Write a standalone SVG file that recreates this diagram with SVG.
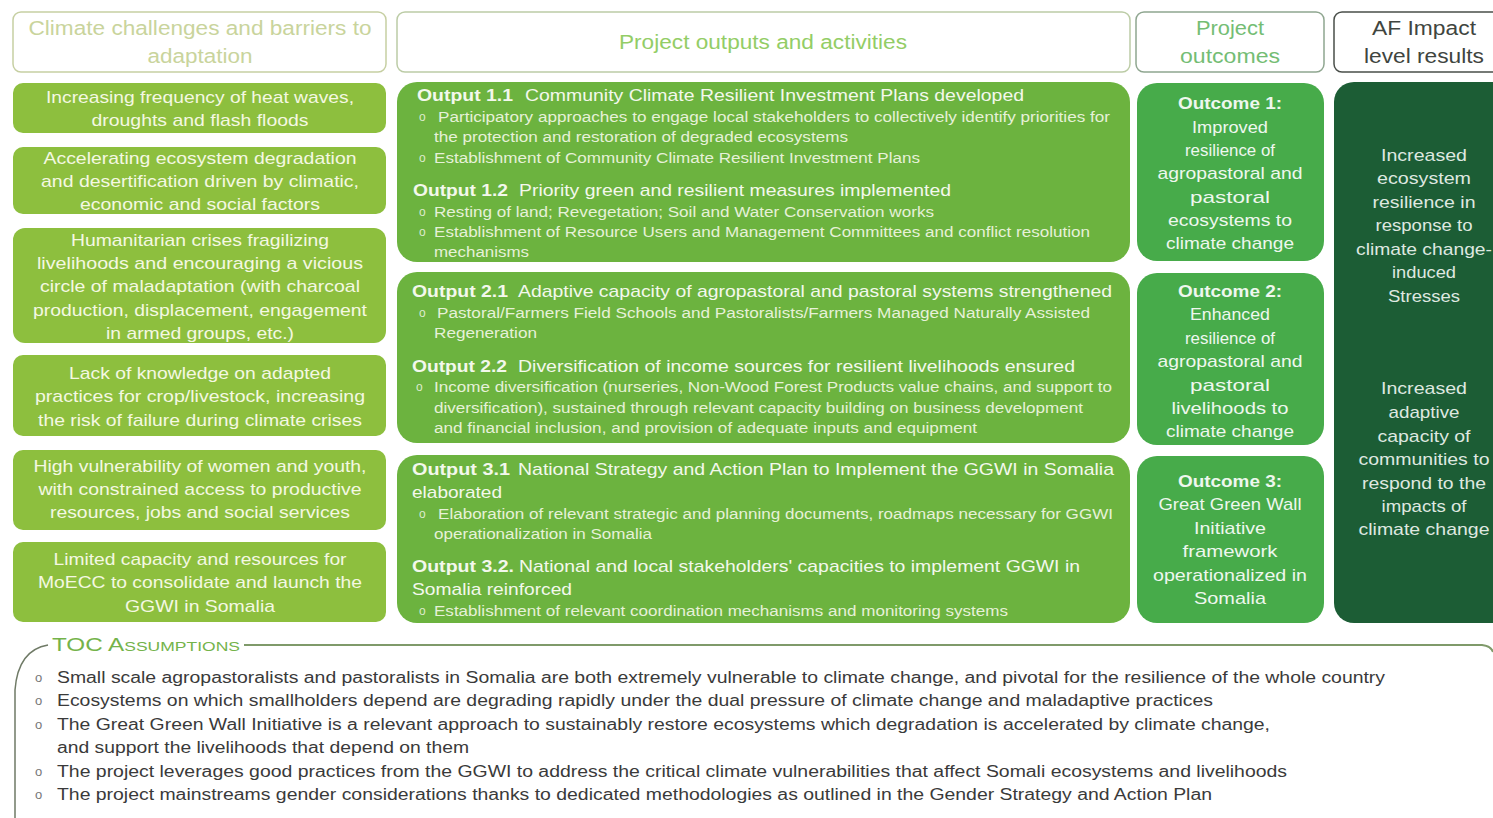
<svg xmlns="http://www.w3.org/2000/svg" width="1493" height="818" viewBox="0 0 1493 818">
<style>
text{font-family:"Liberation Sans",Arial,sans-serif}
.ht{font-size:20px;text-anchor:middle}
.lb{fill:#8dbf3e}
.lt{font-size:17px;fill:#f4f8e2;text-anchor:middle}
.ob{fill:#6cb33f}
.oh{font-size:17px;fill:#f3f8ec}
.ohb{font-size:17px;fill:#f3f8ec;font-weight:bold}
.os{font-size:14px;fill:#e6f1d8}
.bu{font-size:12px;fill:#dcebcc}
.oc{fill:#47ab4a}
.ct{font-size:17px;fill:#eef7ee;text-anchor:middle}
.af{fill:#1c5d35}
.at{font-size:17px;fill:#dfe8e0;text-anchor:middle}
.tc{font-size:16px;fill:#3a3a3a}
.tb{font-size:13px;fill:#777}
</style>

<g id="header-challenges">
<rect x="13" y="12" width="373" height="60" rx="8" fill="#fff" stroke="#c6cfa2" stroke-width="1.5"/>
<text class="ht" x="200" y="35" fill="#c9d49c" textLength="343" lengthAdjust="spacingAndGlyphs">Climate challenges and barriers to</text>
<text class="ht" x="200" y="63" fill="#c9d49c" textLength="105" lengthAdjust="spacingAndGlyphs">adaptation</text>
</g>
<g id="header-outputs">
<rect x="397" y="12" width="733" height="60" rx="8" fill="#fff" stroke="#bccca6" stroke-width="1.5"/>
<text class="ht" x="763" y="49" fill="#93cd66" textLength="288" lengthAdjust="spacingAndGlyphs">Project outputs and activities</text>
</g>
<g id="header-outcomes">
<rect x="1136" y="12" width="188" height="60" rx="8" fill="#fff" stroke="#8fa690" stroke-width="1.5"/>
<text class="ht" x="1230" y="35" fill="#74bd74" textLength="68" lengthAdjust="spacingAndGlyphs">Project</text>
<text class="ht" x="1230" y="63" fill="#74bd74" textLength="100" lengthAdjust="spacingAndGlyphs">outcomes</text>
</g>
<g id="header-impact">
<rect x="1334" y="12" width="175" height="60" rx="8" fill="#fff" stroke="#4a4f4a" stroke-width="1.5"/>
<text class="ht" x="1424" y="35" fill="#404540" textLength="104" lengthAdjust="spacingAndGlyphs">AF Impact</text>
<text class="ht" x="1424" y="63" fill="#404540" textLength="120" lengthAdjust="spacingAndGlyphs">level results</text>
</g>

<g id="challenge-1">
<rect class="lb" x="13" y="83" width="373" height="50" rx="10"/>
<text class="lt" x="200" y="103" textLength="308" lengthAdjust="spacingAndGlyphs">Increasing frequency of heat waves,</text>
<text class="lt" x="200" y="126" textLength="217" lengthAdjust="spacingAndGlyphs">droughts and flash floods</text>
</g>
<g id="challenge-2">
<rect class="lb" x="13" y="147" width="373" height="67" rx="10"/>
<text class="lt" x="200" y="164" textLength="313" lengthAdjust="spacingAndGlyphs">Accelerating ecosystem degradation</text>
<text class="lt" x="200" y="187" textLength="318" lengthAdjust="spacingAndGlyphs">and desertification driven by climatic,</text>
<text class="lt" x="200" y="210" textLength="240" lengthAdjust="spacingAndGlyphs">economic and social factors</text>
</g>
<g id="challenge-3">
<rect class="lb" x="13" y="228" width="373" height="115" rx="12"/>
<text class="lt" x="200" y="246" textLength="258" lengthAdjust="spacingAndGlyphs">Humanitarian crises fragilizing</text>
<text class="lt" x="200" y="269" textLength="326" lengthAdjust="spacingAndGlyphs">livelihoods  and encouraging a vicious</text>
<text class="lt" x="200" y="292" textLength="320" lengthAdjust="spacingAndGlyphs">circle of maladaptation (with charcoal</text>
<text class="lt" x="200" y="316" textLength="334" lengthAdjust="spacingAndGlyphs">production, displacement, engagement</text>
<text class="lt" x="200" y="339" textLength="188" lengthAdjust="spacingAndGlyphs">in armed groups, etc.)</text>
</g>
<g id="challenge-4">
<rect class="lb" x="13" y="355" width="373" height="81" rx="10"/>
<text class="lt" x="200" y="379" textLength="262" lengthAdjust="spacingAndGlyphs">Lack of knowledge on adapted</text>
<text class="lt" x="200" y="402" textLength="330" lengthAdjust="spacingAndGlyphs">practices for crop/livestock, increasing</text>
<text class="lt" x="200" y="426" textLength="324" lengthAdjust="spacingAndGlyphs">the risk of failure during climate crises</text>
</g>
<g id="challenge-5">
<rect class="lb" x="13" y="450" width="373" height="80" rx="10"/>
<text class="lt" x="200" y="472" textLength="333" lengthAdjust="spacingAndGlyphs">High vulnerability of women and youth,</text>
<text class="lt" x="200" y="495" textLength="323" lengthAdjust="spacingAndGlyphs">with constrained access to productive</text>
<text class="lt" x="200" y="518" textLength="300" lengthAdjust="spacingAndGlyphs">resources, jobs and social services</text>
</g>
<g id="challenge-6">
<rect class="lb" x="13" y="542" width="373" height="80" rx="10"/>
<text class="lt" x="200" y="565" textLength="293" lengthAdjust="spacingAndGlyphs">Limited capacity and resources for</text>
<text class="lt" x="200" y="588" textLength="324" lengthAdjust="spacingAndGlyphs">MoECC to consolidate and launch the</text>
<text class="lt" x="200" y="612" textLength="150" lengthAdjust="spacingAndGlyphs">GGWI in Somalia</text>
</g>

<g id="outputs-1">
<rect class="ob" x="397" y="82" width="733" height="180" rx="20"/>
<text class="ohb" x="417" y="101" textLength="96" lengthAdjust="spacingAndGlyphs">Output 1.1</text>
<text class="oh" x="525" y="101" textLength="499" lengthAdjust="spacingAndGlyphs">Community Climate Resilient Investment Plans developed</text>
<text class="bu" x="419" y="121">o</text>
<text class="os" x="438" y="122" textLength="672" lengthAdjust="spacingAndGlyphs">Participatory approaches to engage local stakeholders to collectively identify priorities for</text>
<text class="os" x="434" y="142" textLength="414" lengthAdjust="spacingAndGlyphs">the protection and restoration of degraded ecosystems</text>
<text class="bu" x="419" y="162">o</text>
<text class="os" x="434" y="163" textLength="486" lengthAdjust="spacingAndGlyphs">Establishment of Community Climate Resilient Investment Plans</text>
<text class="ohb" x="413" y="196" textLength="95" lengthAdjust="spacingAndGlyphs">Output 1.2</text>
<text class="oh" x="519" y="196" textLength="432" lengthAdjust="spacingAndGlyphs">Priority green and resilient measures implemented</text>
<text class="bu" x="419" y="216">o</text>
<text class="os" x="434" y="217" textLength="500" lengthAdjust="spacingAndGlyphs">Resting of land; Revegetation; Soil and Water Conservation works</text>
<text class="bu" x="419" y="236">o</text>
<text class="os" x="434" y="237" textLength="656" lengthAdjust="spacingAndGlyphs">Establishment of Resource Users and Management Committees and conflict resolution</text>
<text class="os" x="434" y="257" textLength="95" lengthAdjust="spacingAndGlyphs">mechanisms</text>
</g>
<g id="outputs-2">
<rect class="ob" x="397" y="272" width="733" height="171" rx="20"/>
<text class="ohb" x="412" y="297" textLength="96" lengthAdjust="spacingAndGlyphs">Output 2.1</text>
<text class="oh" x="518" y="297" textLength="594" lengthAdjust="spacingAndGlyphs">Adaptive capacity of agropastoral and pastoral systems strengthened</text>
<text class="bu" x="419" y="317">o</text>
<text class="os" x="437" y="318" textLength="653" lengthAdjust="spacingAndGlyphs">Pastoral/Farmers Field Schools and Pastoralists/Farmers Managed Naturally Assisted</text>
<text class="os" x="434" y="338" textLength="103" lengthAdjust="spacingAndGlyphs">Regeneration</text>
<text class="ohb" x="412" y="372" textLength="95" lengthAdjust="spacingAndGlyphs">Output 2.2</text>
<text class="oh" x="518" y="372" textLength="557" lengthAdjust="spacingAndGlyphs">Diversification of income sources for resilient livelihoods ensured</text>
<text class="bu" x="416" y="391">o</text>
<text class="os" x="434" y="392" textLength="678" lengthAdjust="spacingAndGlyphs">Income diversification (nurseries, Non-Wood Forest Products value chains, and support to</text>
<text class="os" x="434" y="413" textLength="649" lengthAdjust="spacingAndGlyphs">diversification), sustained through relevant capacity building on business development</text>
<text class="os" x="434" y="433" textLength="543" lengthAdjust="spacingAndGlyphs">and financial inclusion, and provision of adequate inputs and equipment</text>
</g>
<g id="outputs-3">
<rect class="ob" x="397" y="455" width="733" height="168" rx="20"/>
<text class="ohb" x="412" y="475" textLength="98" lengthAdjust="spacingAndGlyphs">Output 3.1</text>
<text class="oh" x="518" y="475" textLength="596" lengthAdjust="spacingAndGlyphs">National Strategy and Action Plan to Implement the GGWI in Somalia</text>
<text class="oh" x="412" y="498" textLength="90" lengthAdjust="spacingAndGlyphs">elaborated</text>
<text class="bu" x="419" y="518">o</text>
<text class="os" x="438" y="519" textLength="675" lengthAdjust="spacingAndGlyphs">Elaboration of relevant strategic and planning documents, roadmaps necessary for GGWI</text>
<text class="os" x="434" y="539" textLength="218" lengthAdjust="spacingAndGlyphs">operationalization in Somalia</text>
<text class="ohb" x="412" y="572" textLength="102" lengthAdjust="spacingAndGlyphs">Output 3.2.</text>
<text class="oh" x="519" y="572" textLength="561" lengthAdjust="spacingAndGlyphs">National and local stakeholders' capacities to implement GGWI in</text>
<text class="oh" x="412" y="595" textLength="160" lengthAdjust="spacingAndGlyphs">Somalia reinforced</text>
<text class="bu" x="419" y="615">o</text>
<text class="os" x="434" y="616" textLength="574" lengthAdjust="spacingAndGlyphs">Establishment of relevant coordination mechanisms and monitoring systems</text>
</g>

<g id="outcome-1">
<rect class="oc" x="1137" y="83" width="187" height="178" rx="20"/>
<text class="ct" x="1230" y="109" font-weight="bold" textLength="104" lengthAdjust="spacingAndGlyphs">Outcome 1:</text>
<text class="ct" x="1230" y="133" textLength="76" lengthAdjust="spacingAndGlyphs">Improved</text>
<text class="ct" x="1230" y="156" textLength="90" lengthAdjust="spacingAndGlyphs">resilience of</text>
<text class="ct" x="1230" y="179" textLength="145" lengthAdjust="spacingAndGlyphs">agropastoral and</text>
<text class="ct" x="1230" y="203" textLength="80" lengthAdjust="spacingAndGlyphs">pastoral</text>
<text class="ct" x="1230" y="226" textLength="124" lengthAdjust="spacingAndGlyphs">ecosystems to</text>
<text class="ct" x="1230" y="249" textLength="128" lengthAdjust="spacingAndGlyphs">climate change</text>
</g>
<g id="outcome-2">
<rect class="oc" x="1137" y="273" width="187" height="172" rx="20"/>
<text class="ct" x="1230" y="297" font-weight="bold" textLength="104" lengthAdjust="spacingAndGlyphs">Outcome 2:</text>
<text class="ct" x="1230" y="320" textLength="80" lengthAdjust="spacingAndGlyphs">Enhanced</text>
<text class="ct" x="1230" y="344" textLength="90" lengthAdjust="spacingAndGlyphs">resilience of</text>
<text class="ct" x="1230" y="367" textLength="145" lengthAdjust="spacingAndGlyphs">agropastoral and</text>
<text class="ct" x="1230" y="391" textLength="80" lengthAdjust="spacingAndGlyphs">pastoral</text>
<text class="ct" x="1230" y="414" textLength="117" lengthAdjust="spacingAndGlyphs">livelihoods to</text>
<text class="ct" x="1230" y="437" textLength="128" lengthAdjust="spacingAndGlyphs">climate change</text>
</g>
<g id="outcome-3">
<rect class="oc" x="1137" y="456" width="187" height="167" rx="20"/>
<text class="ct" x="1230" y="487" font-weight="bold" textLength="104" lengthAdjust="spacingAndGlyphs">Outcome 3:</text>
<text class="ct" x="1230" y="510" textLength="143" lengthAdjust="spacingAndGlyphs">Great Green Wall</text>
<text class="ct" x="1230" y="534" textLength="72" lengthAdjust="spacingAndGlyphs">Initiative</text>
<text class="ct" x="1230" y="557" textLength="95" lengthAdjust="spacingAndGlyphs">framework</text>
<text class="ct" x="1230" y="581" textLength="154" lengthAdjust="spacingAndGlyphs">operationalized in</text>
<text class="ct" x="1230" y="604" textLength="72" lengthAdjust="spacingAndGlyphs">Somalia</text>
</g>

<g id="impact">
<rect class="af" x="1334" y="82" width="180" height="541" rx="20"/>
<text class="at" x="1424" y="161" textLength="86" lengthAdjust="spacingAndGlyphs">Increased</text>
<text class="at" x="1424" y="184" textLength="94" lengthAdjust="spacingAndGlyphs">ecosystem</text>
<text class="at" x="1424" y="208" textLength="103" lengthAdjust="spacingAndGlyphs">resilience in</text>
<text class="at" x="1424" y="231" textLength="97" lengthAdjust="spacingAndGlyphs">response to</text>
<text class="at" x="1424" y="255" textLength="136" lengthAdjust="spacingAndGlyphs">climate change-</text>
<text class="at" x="1424" y="278" textLength="64" lengthAdjust="spacingAndGlyphs">induced</text>
<text class="at" x="1424" y="302" textLength="72" lengthAdjust="spacingAndGlyphs">Stresses</text>
<text class="at" x="1424" y="394" textLength="86" lengthAdjust="spacingAndGlyphs">Increased</text>
<text class="at" x="1424" y="418" textLength="71" lengthAdjust="spacingAndGlyphs">adaptive</text>
<text class="at" x="1424" y="442" textLength="93" lengthAdjust="spacingAndGlyphs">capacity of</text>
<text class="at" x="1424" y="465" textLength="131" lengthAdjust="spacingAndGlyphs">communities to</text>
<text class="at" x="1424" y="489" textLength="124" lengthAdjust="spacingAndGlyphs">respond to the</text>
<text class="at" x="1424" y="512" textLength="85" lengthAdjust="spacingAndGlyphs">impacts of</text>
<text class="at" x="1424" y="535" textLength="131" lengthAdjust="spacingAndGlyphs">climate change</text>
</g>

<g id="toc-assumptions">
<path d="M48 645 Q18 650 15 690 L15 818" fill="none" stroke="#6f7a66" stroke-width="1.5"/>
<path d="M244 645 L1482 645 Q1491 646 1493 652" fill="none" stroke="#7f9a6a" stroke-width="2"/>
<text x="52" y="651" font-size="18" fill="#74b34a" font-variant="small-caps" textLength="188" lengthAdjust="spacingAndGlyphs">TOC Assumptions</text>
<text class="tb" x="35" y="682">o</text>
<text class="tc" x="57" y="683" textLength="1328" lengthAdjust="spacingAndGlyphs">Small scale agropastoralists and pastoralists in Somalia are both extremely vulnerable to climate change, and pivotal for the resilience of the whole country</text>
<text class="tb" x="35" y="705">o</text>
<text class="tc" x="57" y="706" textLength="1156" lengthAdjust="spacingAndGlyphs">Ecosystems on which smallholders depend are degrading rapidly under the dual pressure of climate change and maladaptive practices</text>
<text class="tb" x="35" y="729">o</text>
<text class="tc" x="57" y="730" textLength="1213" lengthAdjust="spacingAndGlyphs">The Great Green Wall Initiative is a relevant approach to sustainably restore ecosystems which degradation is accelerated by climate change,</text>
<text class="tc" x="57" y="753" textLength="412" lengthAdjust="spacingAndGlyphs">and support the livelihoods that depend on them</text>
<text class="tb" x="35" y="776">o</text>
<text class="tc" x="57" y="777" textLength="1230" lengthAdjust="spacingAndGlyphs">The project leverages good practices from the GGWI to address the critical climate vulnerabilities that affect Somali ecosystems and livelihoods</text>
<text class="tb" x="35" y="799">o</text>
<text class="tc" x="57" y="800" textLength="1155" lengthAdjust="spacingAndGlyphs">The project mainstreams gender considerations thanks to dedicated methodologies as outlined in the Gender Strategy and Action Plan</text>
</g>
<g id="connectors"></g>
</svg>
